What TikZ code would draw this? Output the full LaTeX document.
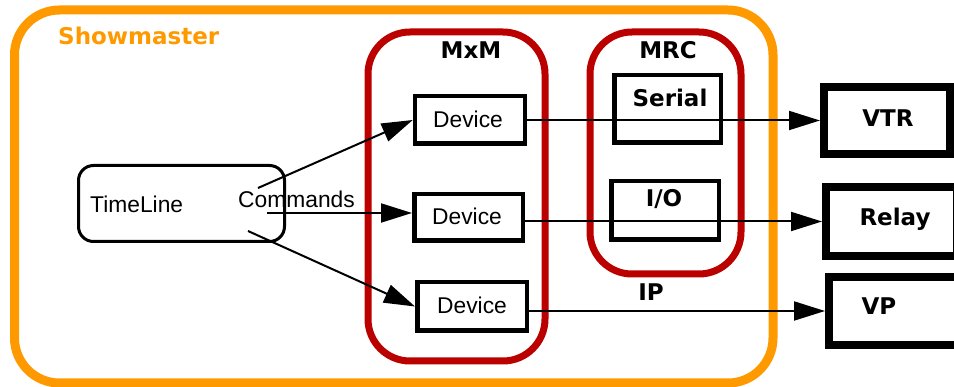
\documentclass[tikz,border=0pt]{standalone}
\usepackage{fontspec}
\setmainfont{Liberation Sans}
\newfontfamily\lblfont{DejaVu Sans}
\usetikzlibrary{arrows.meta,calc}
\definecolor{smorange}{RGB}{255,153,0}
\definecolor{mxred}{RGB}{187,0,0}
\tikzset{
  group/.style={draw=mxred,line width=7pt,rounded corners=42pt},
  devbox/.style={draw,line width=4.5pt,minimum width=110pt,minimum height=47.5pt,inner sep=0pt},
  portbox/.style={draw,line width=4.5pt,inner sep=0pt},
  extbox/.style={draw,line width=8pt,inner sep=0pt},
  plain/.style={font=\fontsize{22.8}{26}\selectfont,inner sep=0pt,anchor=base},
  bold/.style={font=\lblfont\bfseries\fontsize{23}{27}\selectfont,inner sep=0pt,anchor=base},
  conn/.style={line width=2pt,-{Triangle[length=31pt,width=19pt]}}
}
\begin{document}
\begin{tikzpicture}[x=1pt,y=-1pt]
\useasboundingbox (0,0) rectangle (954,387);
\begin{scope}
\clip (0,0) rectangle (954,387);
% Showmaster frame
\draw[draw=smorange,line width=9pt,rounded corners=45pt] (14.5,10) rectangle (773,383);
\node[bold,text=smorange,anchor=base west] (sm) at (58,45) {Showmaster};
% MxM and MRC groups
\draw[group] (368,32) rectangle (545,361);
\draw[group] (590,32) rectangle (741,274);
\node[bold] (mxm) at (471,59) {MxM};
\node[bold] (mrc) at (668,59) {MRC};
% TimeLine
\node[draw,line width=3pt,rounded corners=15pt,minimum width=206pt,minimum height=76pt] (tl) at (181.5,203.5) {};
\node[plain,anchor=base west] (tltxt) at (90,212.5) {TimeLine};
\node[plain,anchor=base west] (cmd) at (238,208) {Commands};
% Devices
\node[devbox] (d1) at (470,120) {};
\node[devbox,minimum width=108.5pt,minimum height=46.5pt] (d2) at (468.5,217.5) {};
\node[devbox,minimum width=109.5pt,minimum height=48.5pt] (d3) at (472,306.5) {};
\node[plain] (d1t) at (468,127.5) {Device};
\node[plain] (d2t) at (467,225) {Device};
\node[plain] (d3t) at (472,314) {Device};
% MRC ports
\node[portbox,minimum width=106.5pt,minimum height=67.5pt] (ser) at (667.5,109) {};
\node[portbox,minimum width=107.5pt,minimum height=58.5pt] (io) at (665,210.5) {};
\node[bold] (sert) at (670,107) {Serial};
\node[bold] (iot) at (664,207) {I/O};
\node[bold] (ip) at (651,301) {IP};
% External boxes
\node[extbox,minimum width=126pt,minimum height=67pt] (vtr) at (887,120.5) {};
\node[extbox,minimum width=131pt,minimum height=69pt] (relay) at (891.5,221.5) {};
\node[extbox,minimum width=133pt,minimum height=68pt] (vp) at (895.5,311) {};
\node[bold] (vtrt) at (888,127) {VTR};
\node[bold] (relayt) at (895,226) {Relay};
\node[bold] (vpt) at (879,315) {VP};
% Connectors
\coordinate (c1) at (258,188);
\coordinate (c2) at (267,213);
\coordinate (c3) at (248,231);
\draw[conn] (c1) -- (d1.west);
\draw[conn] (c2) -- (d2.west |- c2);
\draw[conn] (c3) -- (d3.west);
\draw[conn] (d1.east |- vtr.west) -- (vtr.west);
\draw[conn] (d2.east |- relay.west) -- (relay.west);
\draw[conn] (d3.east |- vp.west) -- (vp.west);
\end{scope}
\end{tikzpicture}
\end{document}
